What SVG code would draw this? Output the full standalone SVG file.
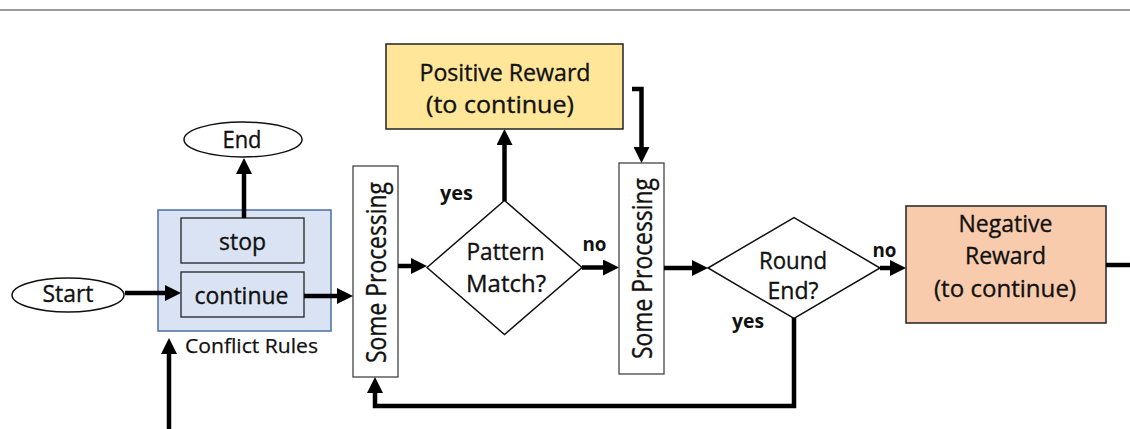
<svg xmlns="http://www.w3.org/2000/svg" width="1130" height="429" viewBox="0 0 1130 429">
  <style>
    text { font-family: "Open Sans", "Noto Sans", "Liberation Sans", sans-serif; fill: #111; stroke: #111; stroke-width: 0.35; }
    .lbl { font-size: 24px; text-anchor: middle; }
    .dia { font-size: 24px; text-anchor: middle; }
    .vert { font-size: 27px; text-anchor: middle; }
    .small { font-size: 20px; text-anchor: middle; stroke-width: 0.25; }
    .tag { font-size: 20px; font-weight: bold; text-anchor: middle; stroke-width: 0; }
    .term { fill: #fff; stroke: #111; stroke-width: 1.5; }
    .proc { fill: #fff; stroke: #444; stroke-width: 1.3; }
    .dec { fill: #fff; stroke: #111; stroke-width: 1.5; }
    .rule { fill: #DAE3F3; stroke: #222; stroke-width: 1.3; }
    .flow { fill: none; stroke: #000; stroke-width: 4.5; stroke-linejoin: miter; }
    .flow.arrow { marker-end: url(#head); }
  </style>
  <defs>
    <marker id="head" markerUnits="userSpaceOnUse" markerWidth="17" markerHeight="16" refX="6" refY="8" orient="auto">
      <path d="M0,0 L16,8 L0,16 Z" fill="#000"/>
    </marker>
  </defs>

  <!-- header rule -->
  <line x1="0" y1="10" x2="1130" y2="10" stroke="#9a9a9a" stroke-width="2"/>

  <!-- terminals -->
  <g id="start">
    <ellipse class="term" cx="68" cy="295" rx="56" ry="17"/>
    <text class="lbl" x="68" y="302" textLength="51" lengthAdjust="spacingAndGlyphs">Start</text>
  </g>
  <g id="end">
    <ellipse class="term" cx="243" cy="139.5" rx="59" ry="17.5"/>
    <text class="lbl" x="242" y="148" textLength="39" lengthAdjust="spacingAndGlyphs">End</text>
  </g>

  <!-- conflict rules -->
  <g id="conflict-rules">
    <rect x="158" y="210" width="173" height="121" fill="#DAE3F3" stroke="#4A6FA5" stroke-width="1.5"/>
    <text class="small" x="251.5" y="353" textLength="133" lengthAdjust="spacingAndGlyphs">Conflict Rules</text>
  </g>
  <g id="stop">
    <rect class="rule" x="181" y="218" width="123" height="45"/>
    <text class="lbl" x="242.5" y="250" textLength="47" lengthAdjust="spacingAndGlyphs">stop</text>
  </g>
  <g id="continue">
    <rect class="rule" x="181" y="272" width="123" height="45"/>
    <text class="lbl" x="241.5" y="304" textLength="94" lengthAdjust="spacingAndGlyphs">continue</text>
  </g>

  <!-- processing steps -->
  <g id="processing-1">
    <rect class="proc" x="353" y="166" width="45" height="211"/>
    <text class="vert" transform="translate(385.5,272.5) rotate(-90)" textLength="181" lengthAdjust="spacingAndGlyphs">Some Processing</text>
  </g>
  <g id="processing-2">
    <rect class="proc" x="619" y="163" width="45" height="211"/>
    <text class="vert" transform="translate(651.5,268.5) rotate(-90)" textLength="181" lengthAdjust="spacingAndGlyphs">Some Processing</text>
  </g>

  <!-- decisions -->
  <g id="pattern-match">
    <polygon class="dec" points="427,267.5 504.5,200.5 582,267.5 504.5,334.5"/>
    <text class="dia" x="505.5" y="260" textLength="78" lengthAdjust="spacingAndGlyphs">Pattern</text>
    <text class="dia" x="506" y="291.5" textLength="80" lengthAdjust="spacingAndGlyphs">Match?</text>
    <text class="tag" x="456.5" y="200" textLength="33" lengthAdjust="spacingAndGlyphs">yes</text>
    <text class="tag" x="594.5" y="251" textLength="24" lengthAdjust="spacingAndGlyphs">no</text>
  </g>
  <g id="round-end">
    <polygon class="dec" points="708,268 794,217.5 880,268 794,318.5"/>
    <text class="dia" x="793" y="268.5" textLength="68" lengthAdjust="spacingAndGlyphs">Round</text>
    <text class="dia" x="793" y="299" textLength="51" lengthAdjust="spacingAndGlyphs">End?</text>
    <text class="tag" x="748" y="328" textLength="32" lengthAdjust="spacingAndGlyphs">yes</text>
    <text class="tag" x="884.5" y="256.5" textLength="24" lengthAdjust="spacingAndGlyphs">no</text>
  </g>

  <!-- rewards -->
  <g id="positive-reward">
    <rect x="386" y="44" width="237" height="85" fill="#FFE699" stroke="#222" stroke-width="1.5"/>
    <text class="lbl" x="505" y="81" textLength="171" lengthAdjust="spacingAndGlyphs">Positive Reward</text>
    <text class="lbl" x="500" y="112.5" textLength="148" lengthAdjust="spacingAndGlyphs">(to continue)</text>
  </g>
  <g id="negative-reward">
    <rect x="906" y="206" width="200" height="117" fill="#F8CBAD" stroke="#222" stroke-width="1.5"/>
    <text class="lbl" x="1005.5" y="232" textLength="94" lengthAdjust="spacingAndGlyphs">Negative</text>
    <text class="lbl" x="1005.5" y="264" textLength="81" lengthAdjust="spacingAndGlyphs">Reward</text>
    <text class="lbl" x="1005" y="296.5" textLength="142" lengthAdjust="spacingAndGlyphs">(to continue)</text>
  </g>

  <!-- connectors, drawn above the node fills -->
  <g id="connectors">
    <path class="flow arrow" d="M125,293 H171"/>
    <path class="flow arrow" d="M304,296 H343"/>
    <path class="flow arrow" d="M244,218 V168"/>
    <path class="flow arrow" d="M169,429 V348"/>
    <path class="flow arrow" d="M398,266 H417"/>
    <path class="flow arrow" d="M504.5,201 V139"/>
    <path class="flow arrow" d="M582,267.5 H609"/>
    <path class="flow arrow" d="M632,89 H641.5 V153"/>
    <path class="flow arrow" d="M664,268 H698"/>
    <path class="flow arrow" d="M880,268 H896"/>
    <path class="flow" d="M1106,265 H1130"/>
    <path class="flow arrow" d="M794,318 V406 H375 V387"/>
  </g>
</svg>
